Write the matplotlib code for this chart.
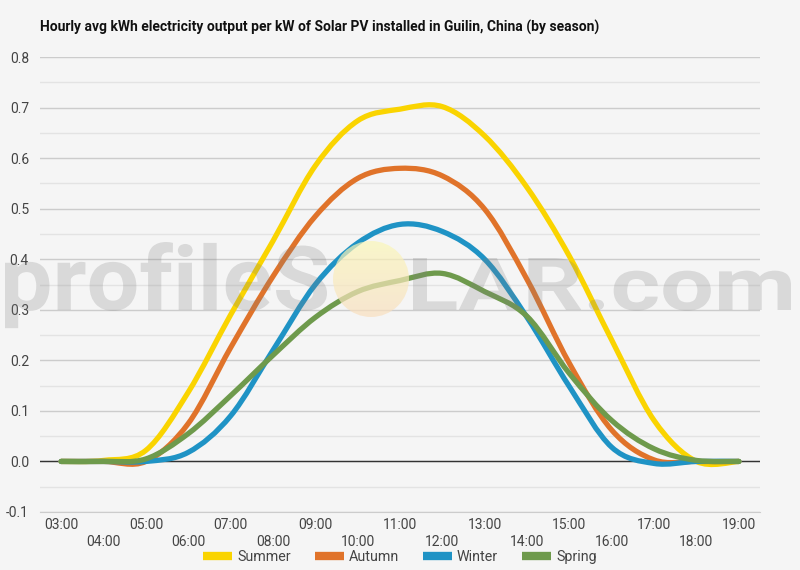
import numpy as np
import matplotlib
matplotlib.use("Agg")
import matplotlib.pyplot as plt
from matplotlib.path import Path
from matplotlib.patches import PathPatch, Circle
from matplotlib.lines import Line2D
from matplotlib.textpath import TextPath
from matplotlib.font_manager import FontProperties
from matplotlib.transforms import Affine2D, IdentityTransform

hours = ["03:00", "04:00", "05:00", "06:00", "07:00", "08:00", "09:00", "10:00", "11:00",
         "12:00", "13:00", "14:00", "15:00", "16:00", "17:00", "18:00", "19:00"]
summer = [0, 0.002, 0.022, 0.137, 0.29, 0.436, 0.585, 0.674, 0.697, 0.702, 0.644, 0.542, 0.406, 0.24, 0.081, 0.0, 0]
autumn = [0, 0, 0.0, 0.075, 0.225, 0.366, 0.485, 0.56, 0.58, 0.565, 0.499, 0.36, 0.194, 0.062, 0.003, 0, 0]
winter = [0, 0, 0.0, 0.018, 0.09, 0.22, 0.35, 0.432, 0.469, 0.455, 0.40, 0.285, 0.148, 0.028, -0.004, 0, 0]
spring = [0, 0, 0.005, 0.055, 0.13, 0.21, 0.285, 0.336, 0.358, 0.372, 0.336, 0.287, 0.174, 0.081, 0.025, 0.002, 0]

series = ["Summer", "Autumn", "Winter", "Spring"]
colors = ["#fad400", "#e0732a", "#1f93c5", "#6e9a4c"]

plt.rcParams['font.family'] = ['Roboto', 'DejaVu Sans']
bg = "#f5f5f5"
W, H = 800, 570

fig = plt.figure(figsize=(8, 5.7), dpi=100, facecolor=bg)
ax = fig.add_axes([0.05, 0.1018, 0.90, 0.798])
ax.set_facecolor(bg)


def smooth_path(xs, ys):
    # bezier curve through the points (catmull-rom style control points)
    pts = np.column_stack([xs, ys]).astype(float)
    n = len(pts)
    verts = [pts[0]]
    codes = [Path.MOVETO]
    for i in range(n - 1):
        p_prev = pts[max(i - 1, 0)]
        p0 = pts[i]
        p1 = pts[i + 1]
        p_next = pts[min(i + 2, n - 1)]
        c1 = p0 + (p1 - p_prev) / 6
        c2 = p1 - (p_next - p0) / 6
        verts += [c1, c2, p1]
        codes += [Path.CURVE4] * 3
    return Path(verts, codes)


x = np.arange(len(hours))
for name, vals, col in zip(series, [summer, autumn, winter, spring], colors):
    patch = PathPatch(smooth_path(x, vals), facecolor="none", edgecolor=col,
                      lw=3.8, capstyle="round", joinstyle="round", zorder=3)
    ax.add_patch(patch)

ax.set_xlim(-0.5, len(hours) - 0.5)
ax.set_ylim(-0.1, 0.8)
yt = np.arange(-0.1, 0.81, 0.1)
ax.set_yticks(yt)
ax.set_yticklabels([f"{v:.1f}" for v in yt])
ax.set_yticks(np.arange(-0.05, 0.8, 0.1), minor=True)
ax.grid(axis="y", which="major", color="#cccccc", lw=1)
ax.grid(axis="y", which="minor", color="#e3e3e3", lw=1)
ax.axhline(0, color="#333333", lw=1, zorder=2)
ax.set_axisbelow(True)

ax.set_xticks(x)
ax.set_xticklabels([h if i % 2 == 0 else "\n" + h for i, h in enumerate(hours)], linespacing=1.35)
ax.tick_params(axis="both", which="both", length=0, labelsize=10, labelcolor="#444444")
ax.tick_params(axis="y", pad=8)
ax.tick_params(axis="x", pad=4)
for s in ["top", "right", "left"]:
    ax.spines[s].set_visible(False)
ax.spines["bottom"].set_color("#cccccc")

fig.text(0.05, 0.951, "Hourly avg kWh electricity output per kW of Solar PV installed in Guilin, China (by season)",
         fontsize=10, fontweight="bold", color="#111111", va="center", ha="left")

handles = [Line2D([], [], color=c, lw=6, solid_capstyle="butt") for c in colors]
leg = fig.legend(handles, series, loc="center", bbox_to_anchor=(0.5, 1 - 557 / H), ncol=4, frameon=False,
                 fontsize=10.3, handlelength=2.0, handletextpad=0.36, columnspacing=1.7)
for t in leg.get_texts():
    t.set_color("#444444")

# watermark
fp = FontProperties(family="Roboto", weight="bold")
for txt, x0, x1, top in [("profileS", 5, 327, 68), ("LAR.com", 413, 791, 52)]:
    tp = TextPath((0, 0), txt, size=100, prop=fp)
    ext = tp.get_extents()
    sx = (x1 - x0) / ext.width
    sy = top / ext.ymax
    tr = Affine2D().translate(-ext.xmin, 0).scale(sx, sy).translate(x0, H - 310)
    fig.add_artist(PathPatch(tr.transform_path(tp), transform=IdentityTransform(),
                             facecolor="#808080", alpha=0.24, lw=0, zorder=10))

sun_ax = fig.add_axes([(371 - 38) / W, 1 - (279 + 38) / H, 76 / W, 76 / H], zorder=5)
sun_ax.set_axis_off()
grad = np.linspace(0, 1, 100)[:, None] * np.ones((1, 2))
cmap = matplotlib.colors.LinearSegmentedColormap.from_list("sun", ["#fbf7b8", "#f9dfbf"])
img = sun_ax.imshow(grad, cmap=cmap, extent=[0, 1, 0, 1], origin="upper", aspect="auto", alpha=0.7)
circ = Circle((0.5, 0.5), 0.5, transform=sun_ax.transData)
img.set_clip_path(circ)
sun_ax.set_xlim(0, 1)
sun_ax.set_ylim(0, 1)
sun_ax.patch.set_alpha(0)

fig.savefig("out.png", dpi=100, facecolor=bg)
